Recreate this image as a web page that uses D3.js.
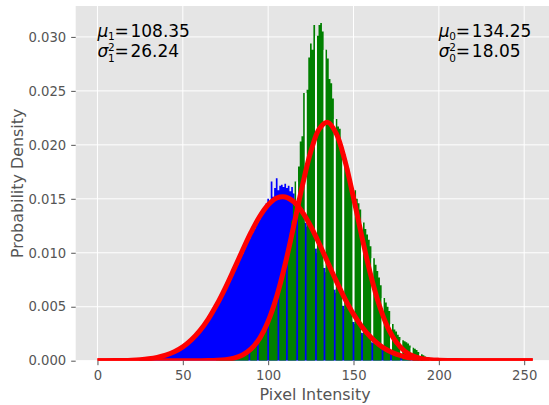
<!DOCTYPE html>
<html lang="en">
<head>
<meta charset="UTF-8">
<title>Pixel intensity</title>
<script src="https://cdn.jsdelivr.net/npm/d3@7/dist/d3.min.js"></script>
<style>
  body { margin: 0; background: #fff; }
  svg { display: block; font-family: "DejaVu Sans", sans-serif; }
  .axis path { display: none; }
  .axis line { stroke: #555; }
  .axis text { fill: #555; font-size: 13.2px; font-family: "DejaVu Sans", sans-serif; }
  .grid line { stroke: #fff; stroke-width: 1; }
  .axis-label { fill: #555; font-size: 15.9px; }
  .note { fill: #000; font-size: 17px; }
</style>
</head>
<body>
<svg width="549" height="405"></svg>
<script>
// tick values
const xTicks = [0, 50, 100, 150, 200, 250];
const yTicks = [0, 0.005, 0.010, 0.015, 0.020, 0.025, 0.030];

// class 1 (blue) histogram, one value per intensity starting at blueStart
const blueStart = 25;
const blueDensity = [
  0.0001, 0.0001, 0.0001, 0.0001, 0.0002,
  0.0002, 0.0002, 0.0002, 0.0003, 0.0003,
  0.0003, 0.0003, 0.0004, 0.0004, 0.0005,
  0.0005, 0.0006, 0.0006, 0.0007, 0.0008,
  0.0008, 0.0009, 0.0010, 0.0011, 0.0012,
  0.0013, 0.0014, 0.0015, 0.0016, 0.0017,
  0.0019, 0.0020, 0.0022, 0.0024, 0.0025,
  0.0027, 0.0029, 0.0031, 0.0033, 0.0036,
  0.0038, 0.0040, 0.0043, 0.0045, 0.0048,
  0.0051, 0.0053, 0.0056, 0.0059, 0.0062,
  0.0066, 0.0069, 0.0072, 0.0075, 0.0079,
  0.0082, 0.0086, 0.0089, 0.0092, 0.0096,
  0.0099, 0.0103, 0.0106, 0.0110, 0.0113,
  0.0116, 0.0119, 0.0122, 0.0125, 0.0128,
  0.0131, 0.0134, 0.0137, 0.0140, 0.0146,
  0.0150, 0.0148, 0.0166, 0.0152, 0.0160,
  0.0169, 0.0158, 0.0162, 0.0163, 0.0161,
  0.0164, 0.0160, 0.0162, 0.0157, 0.0161,
  0.0155, 0.0150, 0.0147, 0.0143, 0.0140,
  0.0136, 0.0132, 0.0128, 0.0124, 0.0120,
  0.0116, 0.0112, 0.0108, 0.0104, 0.0100,
  0.0097, 0.0093, 0.0089, 0.0086, 0.0082,
  0.0079, 0.0075, 0.0072, 0.0069, 0.0066,
  0.0063, 0.0060, 0.0057, 0.0054, 0.0051,
  0.0048, 0.0045, 0.0043, 0.0040, 0.0038,
  0.0036, 0.0034, 0.0032, 0.0030, 0.0028,
  0.0026, 0.0024, 0.0023, 0.0021, 0.0020,
  0.0018, 0.0017, 0.0016, 0.0015, 0.0014,
  0.0013, 0.0012, 0.0011, 0.0010, 0.0009,
  0.0008, 0.0008, 0.0007, 0.0006, 0.0006,
  0.0005, 0.0005, 0.0004, 0.0004, 0.0003,
  0.0003, 0.0003, 0.0002, 0.0002, 0.0002,
  0.0002, 0.0001, 0.0001, 0.0001, 0.0001, 0.0001
];

// class 0 (green) histogram, zeros are the empty bins
const greenStart = 70;
const greenDensity = [
  0.00005, 0.00005, 0.0001, 0.0001, 0.0001, 0.0001, 0.00015, 0.0002, 0.0002, 0.00025,
  0.0003, 0.00035, 0.0004, 0.00045, 0.0005, 0.0006, 0.0007, 0.0008, 0.0009, 0,
  0.0012, 0.0014, 0.0016, 0.0018, 0, 0.0022, 0.0025, 0.0028, 0.0031, 0.0035,
  0, 0.0042, 0.0046, 0.0051, 0.0056, 0.0061, 0, 0.0072, 0.0078, 0.0085,
  0.0092, 0, 0.0108, 0.0118, 0.0130, 0.0148, 0.0166, 0, 0.0180, 0.0203,
  0.0208, 0.0248, 0, 0.0251, 0.0281, 0.0294, 0.0288, 0.0311, 0, 0.0301,
  0.0311, 0.0313, 0.0305, 0, 0.0288, 0.0280, 0.0261, 0.0257, 0.0243, 0,
  0.0224, 0.0217, 0.0215, 0.0194, 0, 0.0191, 0.0180, 0.0178, 0.0170, 0.0159,
  0, 0.0158, 0.0150, 0.0146, 0.0140, 0, 0.0128, 0.0122, 0.0117, 0.0112,
  0.0106, 0, 0.0095, 0.0089, 0.0083, 0.0077, 0.0070, 0, 0.0058, 0.0054,
  0.0050, 0.0046, 0, 0.0034, 0.0029, 0.0027, 0.0024, 0.0022, 0, 0.0019,
  0.0018, 0.0017, 0.0016, 0.0014, 0, 0.0012, 0.0011, 0.0010, 0.0008, 0,
  0.0006, 0.0005, 0.0004, 0.0003, 0.0003, 0, 0.0002, 0.0002, 0.0002, 0.0001,
  0.0001, 0.0001
];

// fitted normal curves, sampled every 5 intensity levels
const fitX = [0, 5, 10, 15, 20, 25, 30, 35, 40, 45, 50, 55, 60, 65, 70, 75, 80, 85, 90, 95,
  100, 105, 110, 115, 120, 125, 130, 135, 140, 145, 150, 155, 160, 165, 170, 175, 180, 185,
  190, 195, 200, 205, 210, 215, 220, 225, 230, 235, 240, 245, 250, 255];
const blueFit = [0.000003, 0.0000065, 0.0000135, 0.000027, 0.000052, 0.000098, 0.000176,
  0.000305, 0.000511, 0.000825, 0.00128, 0.001925, 0.002785, 0.003885, 0.005226, 0.006779,
  0.008483, 0.010232, 0.011906, 0.013358, 0.014453, 0.015081, 0.015174, 0.014724, 0.013776,
  0.012432, 0.010818, 0.009078, 0.007347, 0.005733, 0.004314, 0.00313, 0.002191, 0.001479,
  0.000963, 0.000604, 0.000366, 0.000213, 0.00012, 0.000065, 0.000034, 0.000017, 0.000008,
  0.000004, 0.000002, 0.000001, 0, 0, 0, 0, 0, 0];
const greenFit = [0, 0, 0, 0, 0, 0, 0, 0, 0, 0, 0, 0.000001, 0.000005, 0.000014, 0.000039,
  0.000101, 0.000241, 0.000534, 0.001095, 0.002078, 0.003652, 0.005946, 0.008965, 0.012516,
  0.016186, 0.019384, 0.021499, 0.022083, 0.021008, 0.018508, 0.015105, 0.011414, 0.00799,
  0.005178, 0.00311, 0.001729, 0.00089, 0.000424, 0.000188, 0.000077, 0.000029, 0.00001,
  0.000003, 0.000001, 0, 0, 0, 0, 0, 0, 0, 0];

// annotation text
const blueStats = ["1", "108.35", "26.24"];
const greenStats = ["0", "134.25", "18.05"];

const svg = d3.select("svg");
const margin = { top: 6, right: -5.5, bottom: 44.3, left: 75.7 };
const W = +svg.attr("width"), H = +svg.attr("height");
const x0 = margin.left, x1 = W - margin.right;
const yBottom = H - margin.bottom, yTop = margin.top;

const x = d3.scaleLinear().domain([-12.75, 267.75]).range([x0, x1]);
const yMax = d3.max(greenDensity.concat(blueDensity)) * 1.05;
const y = d3.scaleLinear().domain([0, yMax]).range([yBottom, yTop]);

svg.append("defs").append("clipPath").attr("id", "panel")
  .append("rect").attr("x", x0).attr("y", yTop).attr("width", x1 - x0).attr("height", yBottom - yTop);

svg.append("rect")
  .attr("x", x0).attr("y", yTop).attr("width", x1 - x0).attr("height", yBottom - yTop)
  .attr("fill", "#e5e5e5");

// grid
const grid = svg.append("g").attr("class", "grid");
grid.selectAll(".gx").data(xTicks).join("line")
  .attr("x1", d => x(d)).attr("x2", d => x(d)).attr("y1", yTop).attr("y2", yBottom);
grid.selectAll(".gy").data(yTicks).join("line")
  .attr("x1", x0).attr("x2", x1).attr("y1", d => y(d)).attr("y2", d => y(d));

// histogram helpers
function binPoints(start, values) {
  const pts = values.map((v, i) => ({ x: start + i - 0.5, v: v }));
  pts.push({ x: start + values.length - 0.5, v: values[values.length - 1] });
  return pts;
}
const stepArea = d3.area()
  .x(d => x(d.x)).y0(y(0)).y1(d => y(d.v))
  .curve(d3.curveStepAfter);

const plot = svg.append("g").attr("clip-path", "url(#panel)");

plot.append("path").datum(binPoints(blueStart, blueDensity))
  .attr("fill", "#0000ff").attr("d", stepArea);
plot.append("path").datum(binPoints(greenStart, greenDensity))
  .attr("fill", "#008000").attr("d", stepArea);

// light edges inside the empty green bins
function blueAt(k) {
  const j = k - blueStart;
  return j >= 0 && j < blueDensity.length ? blueDensity[j] : 0;
}
const notches = [];
greenDensity.forEach((v, i) => {
  if (v === 0 && i > 0 && i < greenDensity.length - 1) {
    const k = greenStart + i;
    const top = Math.min(greenDensity[i - 1], greenDensity[i + 1]);
    const bottom = blueAt(k);
    if (top > bottom) notches.push({ k: k, top: top, bottom: bottom });
  }
});
plot.selectAll(".notch").data(notches).join("rect")
  .attr("x", d => x(d.k - 0.5)).attr("width", d => x(d.k + 0.5) - x(d.k - 0.5))
  .attr("y", d => y(d.top)).attr("height", d => y(d.bottom) - y(d.top))
  .attr("fill", "#ffffff");

// fitted curves
const fitLine = d3.line().x(d => x(d[0])).y(d => y(d[1])).curve(d3.curveCatmullRom);
[blueFit, greenFit].forEach(vals => {
  plot.append("path").datum(fitX.map((t, i) => [t, vals[i]]))
    .attr("fill", "none").attr("stroke", "#ff0000").attr("stroke-width", 5)
    .attr("stroke-linejoin", "round").attr("d", fitLine);
});

// axes
svg.append("g").attr("class", "axis")
  .attr("transform", `translate(0,${yBottom})`)
  .call(d3.axisBottom(x).tickValues(xTicks).tickSize(4.5).tickPadding(5).tickFormat(d3.format("d")));
svg.append("g").attr("class", "axis")
  .attr("transform", `translate(${x0},0)`)
  .call(d3.axisLeft(y).tickValues(yTicks).tickSize(4.5).tickPadding(5).tickFormat(d3.format(".3f")));

svg.append("text").attr("class", "axis-label")
  .attr("x", (x0 + x1) / 2).attr("y", 400).attr("text-anchor", "middle")
  .text("Pixel Intensity");
svg.append("text").attr("class", "axis-label")
  .attr("transform", `translate(23,${(yTop + yBottom) / 2}) rotate(-90)`)
  .attr("text-anchor", "middle")
  .text("Probability Density");

// mu / sigma notes
function note(px, stats) {
  const g = svg.append("g").attr("class", "note");
  const b1 = 36.7, b2 = 57.3;
  g.append("text").attr("x", px).attr("y", b1).attr("font-style", "italic").text("μ");
  g.append("text").attr("x", px + 10.5).attr("y", b1 + 3.5).attr("font-size", 10.5).text(stats[0]);
  g.append("text").attr("x", px + 17).attr("y", b1).text("=");
  g.append("text").attr("x", px + 33).attr("y", b1).text(stats[1]);
  g.append("text").attr("x", px).attr("y", b2).attr("font-style", "italic").text("σ");
  g.append("text").attr("x", px + 10.5).attr("y", b2 - 6.5).attr("font-size", 10.5).text("2");
  g.append("text").attr("x", px + 10.5).attr("y", b2 + 4.5).attr("font-size", 10.5).text(stats[0]);
  g.append("text").attr("x", px + 17).attr("y", b2).text("=");
  g.append("text").attr("x", px + 33).attr("y", b2).text(stats[2]);
}
note(x(0), blueStats);
note(x(200), greenStats);
</script>
</body>
</html>
